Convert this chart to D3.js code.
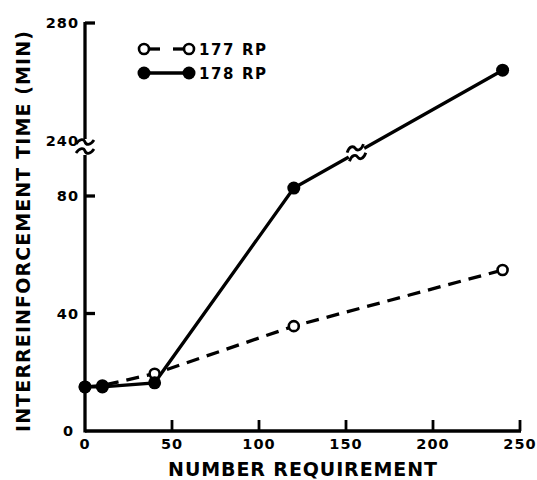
<!DOCTYPE html>
<html>
<head>
<meta charset="utf-8">
<script src="https://cdn.jsdelivr.net/npm/d3@7"></script>
<style>
  body { margin: 0; background: #fff; }
  text { font-family: "DejaVu Sans", sans-serif; font-weight: bold; fill: #000; }
</style>
</head>
<body>
<div id="chart"></div>
<script>
// number requirement (x)
const requirement = [0, 10, 40, 120, 240];
// interreinforcement time, minutes
const rp177 = [15, 15.5, 19.5, 35.7, 54.8];
const rp178 = [15, 15, 16.4, 82.7, 264];

const xTicks = [0, 50, 100, 150, 200, 250];
const yTicksLow = [0, 40, 80];
const yTicksHigh = [240, 280];

const width = 537, height = 480;

const svg = d3.select('#chart').append('svg')
  .attr('width', width)
  .attr('height', height);

const x = d3.scaleLinear().domain([0, 250]).range([85, 520]);
// broken axis: two pieces
const yLow = d3.scaleLinear().domain([0, 80]).range([431, 196]);
const yHigh = d3.scaleLinear().domain([240, 280]).range([141, 23]);
const y = v => v <= 160 ? yLow(v) : yHigh(v);

const sw = 3.3;

// axis lines
svg.append('line')
  .attr('x1', x(0)).attr('x2', x(250) + 1)
  .attr('y1', yLow(0)).attr('y2', yLow(0))
  .style('stroke', '#000').style('stroke-width', sw);
svg.append('line')
  .attr('x1', x(0)).attr('x2', x(0))
  .attr('y1', yLow(0) + 1.5).attr('y2', 155)
  .style('stroke', '#000').style('stroke-width', sw);
svg.append('line')
  .attr('x1', x(0)).attr('x2', x(0))
  .attr('y1', 139).attr('y2', yHigh(280) - 1)
  .style('stroke', '#000').style('stroke-width', sw);

// tilde shaped break mark
function breakMark(cx, cy, angle) {
  const g = svg.append('g').attr('transform', `translate(${cx},${cy}) rotate(${angle})`);
  [-4.5, 4.5].forEach(dy => {
    g.append('path')
      .attr('d', `M-9,${dy + 2} C-5,${dy - 4} -1,${dy - 3} 0,${dy} S5,${dy + 4} 9,${dy - 2}`)
      .style('fill', 'none').style('stroke', '#000').style('stroke-width', 2.8);
  });
}
breakMark(x(0), 146.5, 0);

// y ticks
svg.selectAll('.ytick-low')
  .data(yTicksLow.filter(d => d > 0))
  .enter().append('line')
  .attr('x1', x(0)).attr('x2', x(0) + 10)
  .attr('y1', d => yLow(d)).attr('y2', d => yLow(d))
  .style('stroke', '#000').style('stroke-width', sw);
svg.append('line')
  .attr('x1', x(0)).attr('x2', x(0) + 10)
  .attr('y1', yHigh(280)).attr('y2', yHigh(280))
  .style('stroke', '#000').style('stroke-width', sw);

svg.selectAll('.ylab-low')
  .data(yTicksLow)
  .enter().append('text')
  .attr('x', d => d === 0 ? x(0) - 11 : x(0) - 6)
  .attr('y', d => yLow(d) + 5)
  .attr('text-anchor', 'end')
  .attr('font-size', 14.5)
  .attr('letter-spacing', 1)
  .text(d => d);
svg.selectAll('.ylab-high')
  .data(yTicksHigh)
  .enter().append('text')
  .attr('x', x(0) - 6)
  .attr('y', d => yHigh(d) + 5)
  .attr('text-anchor', 'end')
  .attr('font-size', 14.5)
  .attr('letter-spacing', 1)
  .text(d => d);

// x ticks
svg.selectAll('.xtick')
  .data(xTicks.filter(d => d > 0))
  .enter().append('line')
  .attr('x1', d => x(d)).attr('x2', d => x(d))
  .attr('y1', yLow(0)).attr('y2', yLow(0) - 11)
  .style('stroke', '#000').style('stroke-width', 2.8);

svg.selectAll('.xlab')
  .data(xTicks)
  .enter().append('text')
  .attr('x', d => x(d))
  .attr('y', yLow(0) + 18)
  .attr('text-anchor', 'middle')
  .attr('font-size', 14.5)
  .attr('letter-spacing', 1)
  .text(d => d);

// axis titles
svg.append('text')
  .attr('x', 303).attr('y', 476)
  .attr('text-anchor', 'middle')
  .attr('font-size', 19)
  .attr('letter-spacing', 0.9)
  .text('NUMBER REQUIREMENT');

svg.append('text')
  .attr('transform', 'translate(30,231) rotate(-90)')
  .attr('text-anchor', 'middle')
  .attr('font-size', 19)
  .attr('letter-spacing', 1.1)
  .text('INTERREINFORCEMENT TIME (MIN)');

// series
const pts177 = requirement.map((r, i) => [x(r), y(rp177[i])]);
const pts178 = requirement.map((r, i) => [x(r), y(rp178[i])]);
const line = d3.line();

svg.append('path')
  .attr('d', line(pts177))
  .style('fill', 'none').style('stroke', '#000')
  .style('stroke-width', sw).style('stroke-dasharray', '13,8');

svg.append('path')
  .attr('d', line(pts178))
  .style('fill', 'none').style('stroke', '#000')
  .style('stroke-width', sw);

// break mark on the 178 line, between 120 and 240
const a = pts178[3], b = pts178[4];
const t = (x(156) - a[0]) / (b[0] - a[0]);
const bx = a[0] + t * (b[0] - a[0]), by = a[1] + t * (b[1] - a[1]);
svg.append('circle').attr('cx', bx).attr('cy', by).attr('r', 9).style('fill', '#fff');
breakMark(bx, by, -15);

svg.selectAll('.p177')
  .data(pts177)
  .enter().append('circle')
  .attr('cx', d => d[0]).attr('cy', d => d[1])
  .attr('r', 5)
  .style('fill', '#fff').style('stroke', '#000').style('stroke-width', 2.6);

svg.selectAll('.p178')
  .data(pts178)
  .enter().append('circle')
  .attr('cx', d => d[0]).attr('cy', d => d[1])
  .attr('r', 6.5)
  .style('fill', '#000');

// legend
const leg = svg.append('g');
leg.append('line').attr('x1', 148).attr('x2', 160).attr('y1', 49).attr('y2', 49)
  .style('stroke', '#000').style('stroke-width', sw);
leg.append('line').attr('x1', 173).attr('x2', 185).attr('y1', 49).attr('y2', 49)
  .style('stroke', '#000').style('stroke-width', sw);
leg.append('circle').attr('cx', 144).attr('cy', 49).attr('r', 5)
  .style('fill', '#fff').style('stroke', '#000').style('stroke-width', 2.6);
leg.append('circle').attr('cx', 189).attr('cy', 49).attr('r', 5)
  .style('fill', '#fff').style('stroke', '#000').style('stroke-width', 2.6);
leg.append('line').attr('x1', 144).attr('x2', 189).attr('y1', 73).attr('y2', 73)
  .style('stroke', '#000').style('stroke-width', sw);
leg.append('circle').attr('cx', 144).attr('cy', 73).attr('r', 6.5).style('fill', '#000');
leg.append('circle').attr('cx', 189).attr('cy', 73).attr('r', 6.5).style('fill', '#000');
leg.append('text').attr('x', 199).attr('y', 55).attr('font-size', 15)
  .attr('letter-spacing', 1.6).text('177 RP');
leg.append('text').attr('x', 199).attr('y', 79).attr('font-size', 15)
  .attr('letter-spacing', 1.6).text('178 RP');
</script>
</body>
</html>
